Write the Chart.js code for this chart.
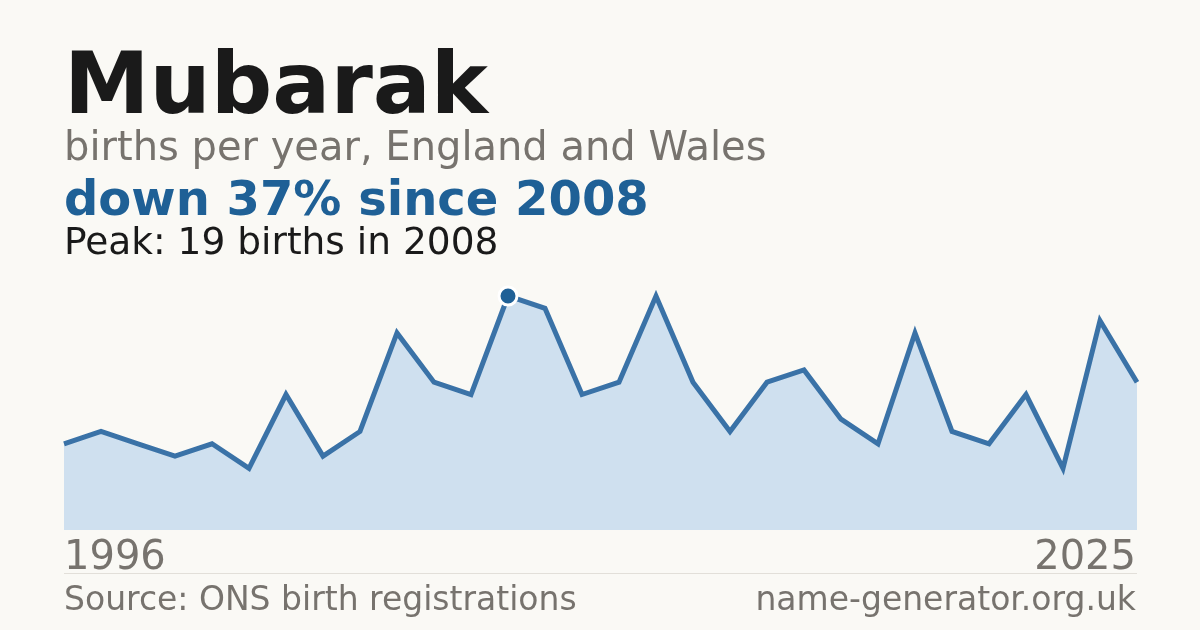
<!DOCTYPE html>
<html>
<head>
<meta charset="utf-8">
<script src="https://cdn.jsdelivr.net/npm/chart.js@4.4.4/dist/chart.umd.min.js"></script>
<style>
  html, body { margin: 0; padding: 0; }
  body {
    width: 1200px; height: 630px; overflow: hidden; position: relative;
    background: #faf9f5; font-family: "DejaVu Sans", sans-serif;
  }
  .t { position: absolute; left: 64px; line-height: 1; white-space: nowrap; }
  #title { top: 40px; font-size: 86px; font-weight: bold; color: #1a1a1a; }
  #sub { top: 126px; font-size: 40px; color: #77736e; }
  #change { top: 174px; font-size: 48px; font-weight: bold; color: #1f6096; }
  #peak { top: 223px; font-size: 37.5px; color: #1a1a1a; }
  .yr { top: 535px; font-size: 40px; color: #77736e; }
  #last { left: auto; right: 64px; }
  #rule { position: absolute; left: 64px; width: 1073px; top: 573px; height: 1px; background: #e2dfd9; }
  .foot { top: 582px; font-size: 33px; color: #77736e; }
  #site { left: auto; right: 64px; }
  canvas { position: absolute; left: 0; top: 0; }
</style>
</head>
<body>
<canvas id="chart" width="1200" height="630"></canvas>
<div class="t" id="title">Mubarak</div>
<div class="t" id="sub">births per year, England and Wales</div>
<div class="t" id="change">down 37% since 2008</div>
<div class="t" id="peak">Peak: 19 births in 2008</div>
<div class="t yr" id="first">1996</div>
<div class="t yr" id="last">2025</div>
<div id="rule"></div>
<div class="t foot" id="src">Source: ONS birth registrations</div>
<div class="t foot" id="site">name-generator.org.uk</div>
<script>
// births per year
const years = [1996, 1997, 1998, 1999, 2000, 2001, 2002, 2003, 2004, 2005,
               2006, 2007, 2008, 2009, 2010, 2011, 2012, 2013, 2014, 2015,
               2016, 2017, 2018, 2019, 2020, 2021, 2022, 2023, 2024, 2025];
const births = [7, 8, 7, 6, 7, 5, 11, 6, 8, 16,
                12, 11, 19, 18, 11, 12, 19, 12, 8, 12,
                13, 9, 7, 16, 8, 7, 11, 5, 17, 12];

const peakIdx = births.indexOf(Math.max(...births));

const data = {
  labels: years,
  datasets: [{
    data: births,
    borderColor: '#3a72a7',
    borderWidth: 5,
    backgroundColor: '#cfe0ef',
    fill: 'origin',
    tension: 0,
    pointRadius: births.map((v, i) => i === peakIdx ? 9 : 0),
    pointBackgroundColor: '#1f6096',
    pointBorderColor: '#ffffff',
    pointBorderWidth: 3,
    clip: false,
  }]
};

const options = {
  responsive: false,
  animation: false,
  layout: { padding: { left: 64, right: 63, top: 296, bottom: 100 } },
  plugins: { legend: { display: false }, tooltip: { enabled: false } },
  scales: {
    x: { display: false },
    y: { display: false, min: 0, max: 19 }
  }
};

new Chart(document.getElementById('chart'), { type: 'line', data, options });
</script>
</body>
</html>
